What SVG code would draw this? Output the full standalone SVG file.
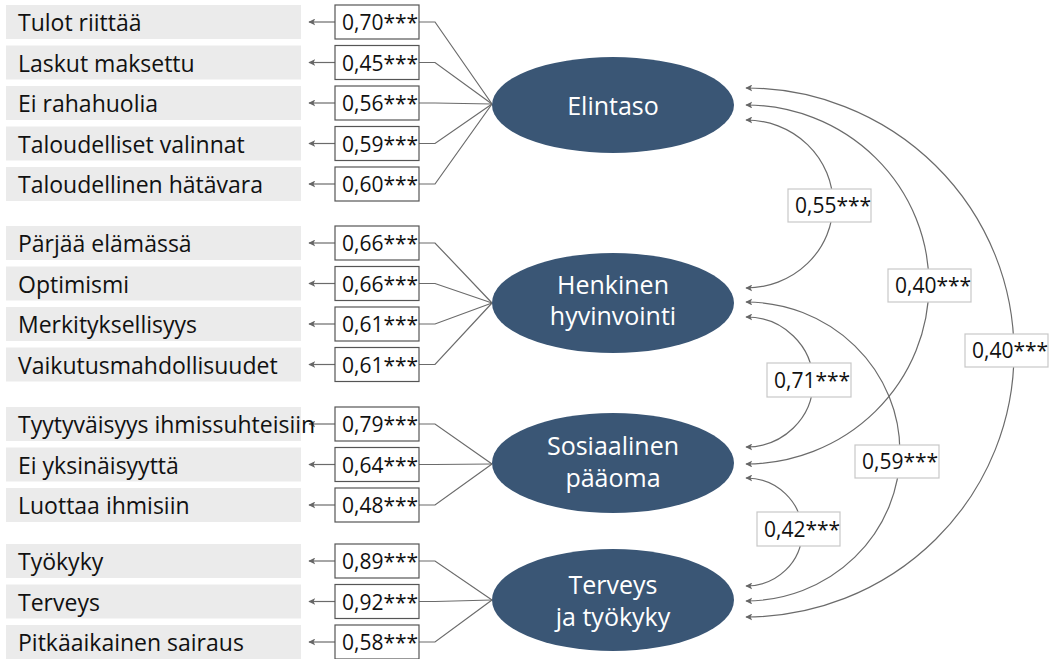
<svg xmlns="http://www.w3.org/2000/svg" width="1059" height="659" viewBox="0 0 1059 659">
<style>
.lbl{fill:#ebebeb}
.lt{font-family:"Open Sans","Noto Sans",sans-serif;font-size:23px;fill:#111}
.vb{fill:#fff;stroke:#555;stroke-width:1.2}
.cb{fill:#fff;stroke:#c8c8c8;stroke-width:1.2}
.vt{font-family:"Open Sans","Noto Sans",sans-serif;font-size:21px;fill:#111}
.ell{fill:#3a5675}
.et{font-family:"Open Sans","Noto Sans",sans-serif;font-size:25px;fill:#fff;text-anchor:middle}
.cn{fill:none;stroke:#6b6b6b;stroke-width:1.2}
</style>
<defs>
<marker id="ah" viewBox="0 0 10 10" refX="9" refY="5" markerWidth="7" markerHeight="7" markerUnits="userSpaceOnUse" orient="auto-start-reverse">
<path d="M0,0 L10,5 L0,10 L2.5,5 z" fill="#666"/>
</marker>
</defs>

<g id="connectors">
<path class="cn" d="M419,22 H435 L492,104"/>
<path class="cn" d="M419,62.5 H435 L492,104"/>
<path class="cn" d="M419,103 H435 L492,104"/>
<path class="cn" d="M419,143.5 H435 L492,104"/>
<path class="cn" d="M419,184 H435 L492,104"/>
<path class="cn" d="M335,22 H309" marker-end="url(#ah)"/>
<path class="cn" d="M335,62.5 H309" marker-end="url(#ah)"/>
<path class="cn" d="M335,103 H309" marker-end="url(#ah)"/>
<path class="cn" d="M335,143.5 H309" marker-end="url(#ah)"/>
<path class="cn" d="M335,184 H309" marker-end="url(#ah)"/>
<path class="cn" d="M419,243 H435 L492,303"/>
<path class="cn" d="M419,283.5 H435 L492,303"/>
<path class="cn" d="M419,324 H435 L492,303"/>
<path class="cn" d="M419,364.5 H435 L492,303"/>
<path class="cn" d="M335,243 H309" marker-end="url(#ah)"/>
<path class="cn" d="M335,283.5 H309" marker-end="url(#ah)"/>
<path class="cn" d="M335,324 H309" marker-end="url(#ah)"/>
<path class="cn" d="M335,364.5 H309" marker-end="url(#ah)"/>
<path class="cn" d="M419,424 H435 L492,464"/>
<path class="cn" d="M419,464.5 H435 L492,464"/>
<path class="cn" d="M419,505 H435 L492,464"/>
<path class="cn" d="M335,424 H309" marker-end="url(#ah)"/>
<path class="cn" d="M335,464.5 H309" marker-end="url(#ah)"/>
<path class="cn" d="M335,505 H309" marker-end="url(#ah)"/>
<path class="cn" d="M419,561 H435 L492,600"/>
<path class="cn" d="M419,601.5 H435 L492,600"/>
<path class="cn" d="M419,642 H435 L492,600"/>
<path class="cn" d="M335,561 H309" marker-end="url(#ah)"/>
<path class="cn" d="M335,601.5 H309" marker-end="url(#ah)"/>
<path class="cn" d="M335,642 H309" marker-end="url(#ah)"/>
<path class="cn" d="M746,120 A87,84 0 0 1 746,288" marker-start="url(#ah)" marker-end="url(#ah)"/>
<path class="cn" d="M746,105 A183,179.5 0 0 1 746,464" marker-start="url(#ah)" marker-end="url(#ah)"/>
<path class="cn" d="M746,88 A268,264.5 0 0 1 746,617" marker-start="url(#ah)" marker-end="url(#ah)"/>
<path class="cn" d="M746,317 A67,65 0 0 1 746,447" marker-start="url(#ah)" marker-end="url(#ah)"/>
<path class="cn" d="M746,302 A154,149.5 0 0 1 746,601" marker-start="url(#ah)" marker-end="url(#ah)"/>
<path class="cn" d="M746,478 A56,54 0 0 1 746,586" marker-start="url(#ah)" marker-end="url(#ah)"/>
<rect class="cb" x="788" y="189" width="83" height="33"/><text class="vt" x="795" y="213">0,55***</text>
<rect class="cb" x="888" y="269" width="83" height="33"/><text class="vt" x="895" y="293">0,40***</text>
<rect class="cb" x="965" y="334" width="83" height="33"/><text class="vt" x="972" y="358">0,40***</text>
<rect class="cb" x="767" y="363" width="84" height="34"/><text class="vt" x="774" y="388">0,71***</text>
<rect class="cb" x="855" y="445" width="84" height="33"/><text class="vt" x="862" y="469">0,59***</text>
<rect class="cb" x="757" y="512" width="83" height="34"/><text class="vt" x="764" y="537">0,42***</text>
</g>

<g id="r1"><rect class="lbl" x="6" y="5" width="295" height="34"/><text class="lt" x="18" y="31">Tulot riittää</text><rect class="vb" x="335" y="5" width="84" height="34"/><text class="vt" x="342" y="30">0,70***</text></g>
<g id="r2"><rect class="lbl" x="6" y="45.5" width="295" height="34"/><text class="lt" x="18" y="71.5">Laskut maksettu</text><rect class="vb" x="335" y="45.5" width="84" height="34"/><text class="vt" x="342" y="70.5">0,45***</text></g>
<g id="r3"><rect class="lbl" x="6" y="86" width="295" height="34"/><text class="lt" x="18" y="112">Ei rahahuolia</text><rect class="vb" x="335" y="86" width="84" height="34"/><text class="vt" x="342" y="111">0,56***</text></g>
<g id="r4"><rect class="lbl" x="6" y="126.5" width="295" height="34"/><text class="lt" x="18" y="152.5">Taloudelliset valinnat</text><rect class="vb" x="335" y="126.5" width="84" height="34"/><text class="vt" x="342" y="151.5">0,59***</text></g>
<g id="r5"><rect class="lbl" x="6" y="167" width="295" height="34"/><text class="lt" x="18" y="193">Taloudellinen hätävara</text><rect class="vb" x="335" y="167" width="84" height="34"/><text class="vt" x="342" y="192">0,60***</text></g>

<g id="r6"><rect class="lbl" x="6" y="226" width="295" height="34"/><text class="lt" x="18" y="252">Pärjää elämässä</text><rect class="vb" x="335" y="226" width="84" height="34"/><text class="vt" x="342" y="251">0,66***</text></g>
<g id="r7"><rect class="lbl" x="6" y="266.5" width="295" height="34"/><text class="lt" x="18" y="292.5">Optimismi</text><rect class="vb" x="335" y="266.5" width="84" height="34"/><text class="vt" x="342" y="291.5">0,66***</text></g>
<g id="r8"><rect class="lbl" x="6" y="307" width="295" height="34"/><text class="lt" x="18" y="333">Merkityksellisyys</text><rect class="vb" x="335" y="307" width="84" height="34"/><text class="vt" x="342" y="332">0,61***</text></g>
<g id="r9"><rect class="lbl" x="6" y="347.5" width="295" height="34"/><text class="lt" x="18" y="373.5">Vaikutusmahdollisuudet</text><rect class="vb" x="335" y="347.5" width="84" height="34"/><text class="vt" x="342" y="372.5">0,61***</text></g>

<g id="r10"><rect class="lbl" x="6" y="407" width="295" height="34"/><text class="lt" x="18" y="433">Tyytyväisyys ihmissuhteisiin</text><rect class="vb" x="335" y="407" width="84" height="34"/><text class="vt" x="342" y="432">0,79***</text></g>
<g id="r11"><rect class="lbl" x="6" y="447.5" width="295" height="34"/><text class="lt" x="18" y="473.5">Ei yksinäisyyttä</text><rect class="vb" x="335" y="447.5" width="84" height="34"/><text class="vt" x="342" y="472.5">0,64***</text></g>
<g id="r12"><rect class="lbl" x="6" y="488" width="295" height="34"/><text class="lt" x="18" y="514">Luottaa ihmisiin</text><rect class="vb" x="335" y="488" width="84" height="34"/><text class="vt" x="342" y="513">0,48***</text></g>

<g id="r13"><rect class="lbl" x="6" y="544" width="295" height="34"/><text class="lt" x="18" y="570">Työkyky</text><rect class="vb" x="335" y="544" width="84" height="34"/><text class="vt" x="342" y="569">0,89***</text></g>
<g id="r14"><rect class="lbl" x="6" y="584.5" width="295" height="34"/><text class="lt" x="18" y="610.5">Terveys</text><rect class="vb" x="335" y="584.5" width="84" height="34"/><text class="vt" x="342" y="609.5">0,92***</text></g>
<g id="r15"><rect class="lbl" x="6" y="625" width="295" height="34"/><text class="lt" x="18" y="651">Pitkäaikainen sairaus</text><rect class="vb" x="335" y="625" width="84" height="34"/><text class="vt" x="342" y="650">0,58***</text></g>

<g id="elintaso"><ellipse class="ell" cx="613" cy="105" rx="121" ry="48"/><text class="et" x="613" y="115">Elintaso</text></g>
<g id="henkinen"><ellipse class="ell" cx="613" cy="303" rx="121" ry="50"/><text class="et" x="613" y="294">Henkinen</text><text class="et" x="613" y="325">hyvinvointi</text></g>
<g id="sosiaalinen"><ellipse class="ell" cx="613" cy="463" rx="121" ry="50"/><text class="et" x="613" y="455">Sosiaalinen</text><text class="et" x="613" y="487">pääoma</text></g>
<g id="terveys"><ellipse class="ell" cx="613" cy="600" rx="121" ry="51"/><text class="et" x="613" y="594">Terveys</text><text class="et" x="613" y="626">ja työkyky</text></g>
</svg>
